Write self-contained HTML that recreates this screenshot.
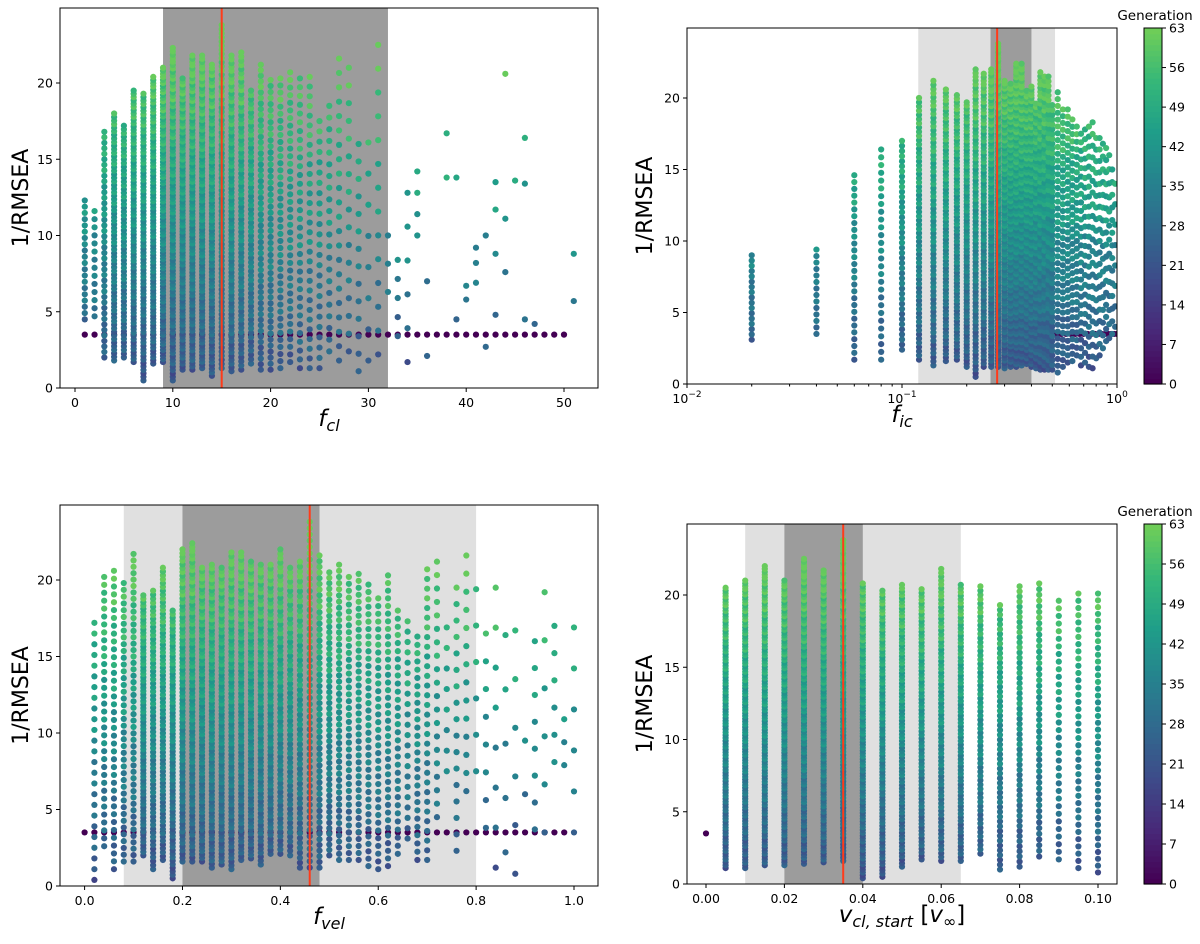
<!DOCTYPE html>
<html><head><meta charset="utf-8">
<style>
html,body{margin:0;padding:0;background:#fff;}
svg{display:block;font-family:"DejaVu Sans","Liberation Sans",sans-serif;}
</style></head>
<body>
<svg id="chart" width="1200" height="944" viewBox="0 0 1200 944" xmlns="http://www.w3.org/2000/svg"></svg>
<script>
// ---------- DATA ----------
// Top-left: f_cl columns
const tlX    = [1,2,3,4,5,6,7,8,9,10,11,12,13,14,15,16,17,18,19,20,21,22,23,24,25,26,27,28,29,30,31,32,33,34,35];
const tlYmax = [12.3,11.6,16.8,18,17.2,19.5,19.3,20.4,21,22.3,20.3,21.8,21.8,21.2,23.8,21.8,22,19.5,21.2,20.2,20.3,20.7,20.3,20.4,17.5,18.5,21.6,21,16,16.1,22.5,10,8.4,12.8,14.2];
const tlYmin = [4.5,4.7,2,1.8,2,1.7,0.5,1.6,1.7,0.5,1.2,1.2,1.3,0.8,1.3,1.1,1.2,1.6,1.2,1.2,1.3,1.7,1.3,1.3,1.3,2.4,1.8,2.4,1.1,1.8,2.2,6.3,3.4,1.7,10];
const tlN    = [14,10,30,50,45,60,60,65,70,70,70,70,70,65,60,60,55,45,40,35,30,28,24,22,18,16,16,12,10,8,10,3,5,6,4];
const tlExtraX = [36,36,38,38,39,39,40,40,41,41,41,42,42,43,43,43,43,44,44,44,45,46,46,46,47,51,51];
const tlExtraY = [7,2.1,16.7,13.8,13.8,4.5,6.7,5.8,9.2,6.9,8.2,10,2.7,13.5,11.7,8.8,4.8,20.6,11.1,7.6,13.6,16.4,13.4,4.5,4.2,8.8,5.7];
const tlPurpleX = [1,2,3,4,5,6,7,8,9,10,11,12,13,14,15,16,17,18,19,20,21,22,23,24,25,26,27,28,29,30,31,32,33,34,35,36,37,38,39,40,41,42,43,44,45,46,47,48,49,50];
// Top-right: f_ic columns
const trX    = [0.02,0.04,0.06,0.08,0.10,0.12,0.14,0.16,0.18,0.20,0.22,0.24,0.26,0.28,0.30,0.32,0.34,0.36,0.38,0.40,0.42,0.44,0.46,0.48,0.50,0.53,0.56,0.59,0.62,0.65,0.68,0.71,0.74,0.77,0.80,0.83,0.86,0.89,0.92,0.95,0.98];
const trYmax = [9,9.4,14.6,16.4,17,20,21.2,20.6,20.2,19.7,22,21.7,22,23.8,21.2,21,22.4,22.4,20.5,20.8,19.6,21.8,21.5,21.5,19.5,20.4,19.2,19.2,18.5,18,17.5,17.8,18,18.3,17.2,17.2,16.8,16.5,16,15,14];
const trYmin = [3.1,3.5,1.7,1.7,2.4,1.7,1.3,1.6,1.7,1.2,0.5,1.2,1.2,1.2,1.1,1.2,1.2,1.3,1.4,1.2,1.1,1.0,1.0,1.0,1.0,0.8,1.2,1.5,1.6,2.0,1.3,1.5,1.2,1.1,1.8,2.0,2.5,3.0,3.2,3.5,4.0];
const trN    = [12,10,20,20,30,45,50,55,55,60,60,60,70,80,80,80,80,75,70,70,60,55,50,45,40,30,28,26,24,22,20,18,18,16,14,14,12,12,10,10,8];
const trPurpleX = [0.40,0.43,0.46,0.49,0.52,0.55,0.58,0.61,0.64,0.67,0.70,0.73,0.76,0.79,0.82,0.85,0.88,0.91,0.94,0.97,1.0];
// Bottom-left: f_vel columns
const blX    = [0.02,0.04,0.06,0.08,0.10,0.12,0.14,0.16,0.18,0.20,0.22,0.24,0.26,0.28,0.30,0.32,0.34,0.36,0.38,0.40,0.42,0.44,0.46,0.48,0.50,0.52,0.54,0.56,0.58,0.60,0.62,0.64,0.66,0.68,0.70,0.72,0.74,0.76,0.78,0.80,0.82,0.84,0.86,0.88,0.90,0.92,0.94,0.96,0.98,1.0];
const blYmax = [17.2,20.2,20.6,19.8,21.7,19,19.3,20.8,18,22,22.4,20.8,21,20.8,21.8,21.8,21.2,21,21,22,20.8,21.2,23.8,21.6,20.5,21,20.2,20.4,19.7,18.8,20.3,18,17.3,16.3,20.7,21.2,16.9,19.5,21.6,19.4,16.5,19.5,16.4,16.7,9.5,16,19.2,17,10.9,16.9];
const blYmin = [0.4,2.6,1.1,1.6,1.6,2,1.1,1.7,0.5,1.6,1.6,1.6,1.2,1.4,1.1,1.7,1.8,1.4,2.1,2.1,2,1.2,1.2,1.2,2,1.7,1.7,1.7,1.3,1.1,1.3,2.1,3.1,1.7,1.7,4.5,7.5,2.3,6.2,7.5,3.8,1.2,2.2,0.8,6,3.7,3.5,8.1,7.9,3.5];
const blN    = [18,25,28,30,35,55,50,55,55,60,60,60,60,60,60,60,60,55,55,50,45,45,40,40,38,35,30,30,28,26,28,22,16,20,22,14,8,12,10,6,8,8,5,6,2,8,6,6,3,6];
const blPurpleX = [0,0.02,0.04,0.06,0.08,0.10,0.12,0.14,0.16,0.18,0.20,0.22,0.24,0.26,0.28,0.30,0.32,0.34,0.36,0.38,0.40,0.42,0.44,0.46,0.48,0.50,0.52,0.54,0.56,0.58,0.60,0.62,0.64,0.66,0.68,0.70,0.72,0.74,0.76,0.78,0.80,0.82,0.84,0.86,0.88,0.90,0.92,0.94,0.96,0.98];
// Bottom-right: v_cl,start columns
const brX    = [0.005,0.01,0.015,0.02,0.025,0.03,0.035,0.04,0.045,0.05,0.055,0.06,0.065,0.07,0.075,0.08,0.085,0.09,0.095,0.10];
const brYmax = [20.5,21,22,21,22.5,21.7,23.8,20.8,20.3,20.7,20.4,21.8,20.7,20.6,19.3,20.6,20.8,19.6,20.1,20.1];
const brYmin = [1.1,1.1,1.3,1.3,1.4,1.5,1.6,0.4,0.5,1.2,1.7,1.6,1.6,2.1,1,1.2,1.9,1.7,1.1,0.8];
const brN    = [70,75,75,75,75,75,70,75,65,60,55,55,55,45,40,40,35,25,28,30];
const brPurpleX = [0.0];
// Colorbar / axis ticks
const genTicks = [0,7,14,21,28,35,42,49,56,63];
const tlTicksX = [0,10,20,30,40,50];
const blTicksX = [0.0,0.2,0.4,0.6,0.8,1.0];
const brTicksX = [0.00,0.02,0.04,0.06,0.08,0.10];
const yTicks = [0,5,10,15,20];
// Regions [lightLo, lightHi, darkLo, darkHi, best]
const tlRegion = [null,null,9,32,15];
const trRegion = [0.119,0.515,0.258,0.40,0.277];
const blRegion = [0.08,0.80,0.20,0.48,0.46];
const brRegion = [0.01,0.065,0.02,0.04,0.035];

// ---------- RENDER ----------
const NS="http://www.w3.org/2000/svg";
const svg=document.getElementById('chart');
const DOT_R=3.1, DENS=1.4;
function mk(tag,attrs,parent){const e=document.createElementNS(NS,tag);for(const k in attrs)e.setAttribute(k,attrs[k]);(parent||svg).appendChild(e);return e;}
const VIR=[[68,1,84],[72,40,120],[62,74,137],[49,104,142],[38,130,142],[31,158,137],[53,183,121],[109,205,89],[180,222,44],[253,231,37]];
function viridis(t){t=Math.max(0,Math.min(1,t));const s=t*(VIR.length-1);const i=Math.min(VIR.length-2,Math.floor(s));const f=s-i;const a=VIR[i],b=VIR[i+1];return `rgb(${Math.round(a[0]+(b[0]-a[0])*f)},${Math.round(a[1]+(b[1]-a[1])*f)},${Math.round(a[2]+(b[2]-a[2])*f)})`;}
function genColor(g){return viridis(g/63*0.78);}
function genFor(y,k){let g=20+y*1.95+((k*7)%11)-5;return Math.max(16,Math.min(62,g));}

function panel(cfg){
  const {name,L,R,T,B,xs,yMaxV,region}=cfg;
  const g=mk('g',{});  
  const ys=v=>B-(v/yMaxV)*(B-T);
  const clip='clip-'+name;
  const cp=mk('clipPath',{id:clip},g); mk('rect',{x:L,y:T,width:R-L,height:B-T},cp);
  const plot=mk('g',{'clip-path':`url(#${clip})`},g);
  if(region[0]!==null){const r=mk('rect',{x:xs(region[0]),y:T,width:xs(region[1])-xs(region[0]),height:B-T,fill:'#e0e0e0'},plot);}
  const d=mk('rect',{x:xs(region[2]),y:T,width:xs(region[3])-xs(region[2]),height:B-T,fill:'#9c9c9c'},plot);
  
  const pts=mk('g',{},plot);  
  cfg.purpleX.forEach(px=>{const c=mk('circle',{cx:xs(px),cy:ys(3.5),r:DOT_R,fill:genColor(0)},pts);});
  cfg.colX.forEach((cx,k)=>{
    const lo=cfg.colMin[k],hi=cfg.colMax[k],n=Math.max(1,Math.round(cfg.colN[k]*(cfg.colN[k]>8?DENS:1)));
    for(let i=0;i<n;i++){
      const y=n>1?lo+(hi-lo)*i/(n-1):hi;
      const c=mk('circle',{cx:xs(cx),cy:ys(y),r:DOT_R,fill:genColor(genFor(y,k+i))},pts);
      
      
    }
  });
  if(cfg.exX){cfg.exX.forEach((ex,i)=>{const c=mk('circle',{cx:xs(ex),cy:ys(cfg.exY[i]),r:DOT_R,fill:genColor(genFor(cfg.exY[i],i))},pts);});}
  const rl=mk('line',{x1:xs(region[4]),x2:xs(region[4]),y1:T,y2:B,stroke:'#ff3b1a','stroke-width':2},plot);
  
  const fr=mk('rect',{x:L,y:T,width:R-L,height:B-T,fill:'none',stroke:'#000','stroke-width':1},g);
  
  yTicks.forEach(v=>{mk('line',{x1:L-4,x2:L,y1:ys(v),y2:ys(v),stroke:'#000'},g);const t=mk('text',{x:L-7,y:ys(v)+4.5,'text-anchor':'end','font-size':12.5},g);t.textContent=v;});
  if(cfg.xTicks){cfg.xTicks.forEach(v=>{mk('line',{x1:xs(v),x2:xs(v),y1:B,y2:B+4,stroke:'#000'},g);const t=mk('text',{x:xs(v),y:B+19,'text-anchor':'middle','font-size':12.5},g);t.textContent=cfg.fmt(v);});}
  const yt=mk('text',{x:cfg.ytX,y:(T+B)/2,'text-anchor':'middle','font-size':22,transform:`rotate(-90 ${cfg.ytX} ${(T+B)/2})`},g);
  yt.textContent='1/RMSEA';
  const xt=mk('text',{x:(L+R)/2,y:B+38,'text-anchor':'middle','font-size':23,'font-style':'italic'},g);
  xt.innerHTML=cfg.xTitle;
  return g;
}
function colorbar(T,B){
  const g=mk('g',{});
  const L=1144,W=18;const steps=64;
  for(let i=0;i<steps;i++){const y0=B-(i+1)*(B-T)/steps;mk('rect',{x:L,y:y0,width:W,height:(B-T)/steps+0.6,fill:genColor(i)},g);}
  mk('rect',{x:L,y:T,width:W,height:B-T,fill:'none',stroke:'#000'},g);
  genTicks.forEach(v=>{const y=B-v/63*(B-T);mk('line',{x1:L+W,x2:L+W+4,y1:y,y2:y,stroke:'#000'},g);const t=mk('text',{x:L+W+7,y:y+4.5,'font-size':12.5},g);t.textContent=v;});
  const tt=mk('text',{x:1155,y:T-8,'text-anchor':'middle','font-size':13.5},g);tt.textContent='Generation';
}
(function(){const L=60,R=598,x0=75,k=9.78;const xs=v=>x0+v*k;
panel({name:'panel-f-cl',L,R,T:8,B:388,xs,yMaxV:(388-8)/15.25,region:tlRegion,purpleX:tlPurpleX,colX:tlX,colMin:tlYmin,colMax:tlYmax,colN:tlN,exX:tlExtraX,exY:tlExtraY,xTicks:tlTicksX,fmt:v=>v,ytX:28,xTitle:'f<tspan font-size="16" dy="5">cl</tspan>'});})();
(function(){const L=687,R=1117;const xs=v=>L+(Math.log10(v)+2)*(R-L)/2;
const g=panel({name:'panel-f-ic',L,R,T:28,B:384,xs,yMaxV:(384-28)/14.3,region:trRegion,purpleX:trPurpleX,colX:trX,colMin:trYmin,colMax:trYmax,colN:trN,ytX:652,xTitle:'f<tspan font-size="16" dy="5">ic</tspan>'});
[-2,-1,0].forEach(e=>{const x=xs(Math.pow(10,e));mk('line',{x1:x,x2:x,y1:384,y2:388,stroke:'#000'},g);const t=mk('text',{x:x,y:403,'text-anchor':'middle','font-size':12.5},g);t.innerHTML='10<tspan font-size="9" dy="-6">'+(e===0?'0':'\u2212'+(-e))+'</tspan>';});
[-2,-1].forEach(e=>{for(let m=2;m<10;m++){const x=xs(m*Math.pow(10,e));mk('line',{x1:x,x2:x,y1:384,y2:386.5,stroke:'#000'},g);}});
})();
colorbar(28,384);
(function(){const L=60,R=598,x0=84.6,k=489.4;const xs=v=>x0+v*k;
panel({name:'panel-f-vel',L,R,T:505,B:886,xs,yMaxV:(886-505)/15.3,region:blRegion,purpleX:blPurpleX,colX:blX,colMin:blYmin,colMax:blYmax,colN:blN,xTicks:blTicksX,fmt:v=>v.toFixed(1),ytX:28,xTitle:'f<tspan font-size="16" dy="5">vel</tspan>'});})();
(function(){const L=687,R=1117,x0=706,k=3920;const xs=v=>x0+v*k;
panel({name:'panel-v-cl-start',L,R,T:524,B:884,xs,yMaxV:(884-524)/14.45,region:brRegion,purpleX:brPurpleX,colX:brX,colMin:brYmin,colMax:brYmax,colN:brN,xTicks:brTicksX,fmt:v=>v.toFixed(2),ytX:652,xTitle:'v<tspan font-size="16" dy="5">cl, start</tspan><tspan dy="-5" font-style="normal"> [</tspan>v<tspan font-size="16" dy="5">∞</tspan><tspan dy="-5" font-style="normal">]</tspan>'});})();
colorbar(524,884);
</script>
</body></html>
